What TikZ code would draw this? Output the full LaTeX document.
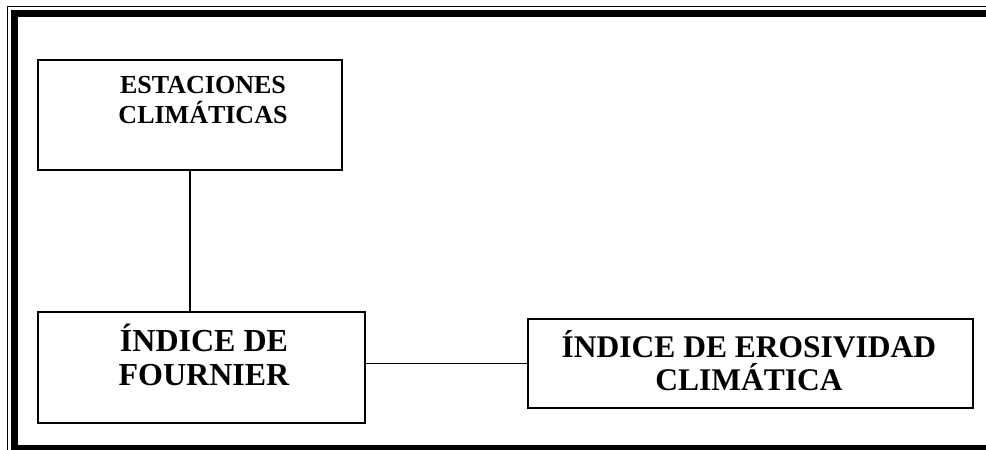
\documentclass[tikz,border=0pt]{standalone}
\usepackage{fontspec}
\setmainfont{Liberation Serif}
\begin{document}
\begin{tikzpicture}[x=1pt, y=-1pt, line width=1.5pt,
  caja/.style={draw, inner sep=0pt, anchor=north west},
  rotulo/.style={align=center, inner sep=0pt, anchor=base}]
  \useasboundingbox (0,0) rectangle (986,450);
  \clip (0,0) rectangle (986,450);
  % marco
  \draw[line width=1.3pt] (7.5,460) -- (7.5,6.5) -- (1000,6.5);
  \draw[line width=7pt] (14.5,460) -- (14.5,13.5) -- (1000,13.5);
  \draw[line width=7pt] (11,448.5) -- (1000,448.5);
  % cajas
  \node[caja, minimum width=304pt, minimum height=110pt] (estaciones) at (37,59) {};
  \node[caja, minimum width=327pt, minimum height=111pt] (fournier) at (37,311) {};
  \node[caja, minimum width=445pt, minimum height=89pt] (erosividad) at (527,318) {};
  \node[rotulo, font=\bfseries\fontsize{26}{30}\selectfont] (testaciones) at (203,123) {ESTACIONES\\CLIMÁTICAS};
  \node[rotulo, font=\bfseries\fontsize{32}{34}\selectfont] (tfournier) at (204,385) {ÍNDICE DE\\FOURNIER};
  \node[rotulo, font=\bfseries\fontsize{31.5}{33}\selectfont] (terosividad) at (749,390) {ÍNDICE DE EROSIVIDAD\\CLIMÁTICA};
  % lineas
  \draw (estaciones.south) -- (estaciones.south |- fournier.north);
  \draw (erosividad.west -| fournier.east) -- (erosividad.west);
\end{tikzpicture}
\end{document}
